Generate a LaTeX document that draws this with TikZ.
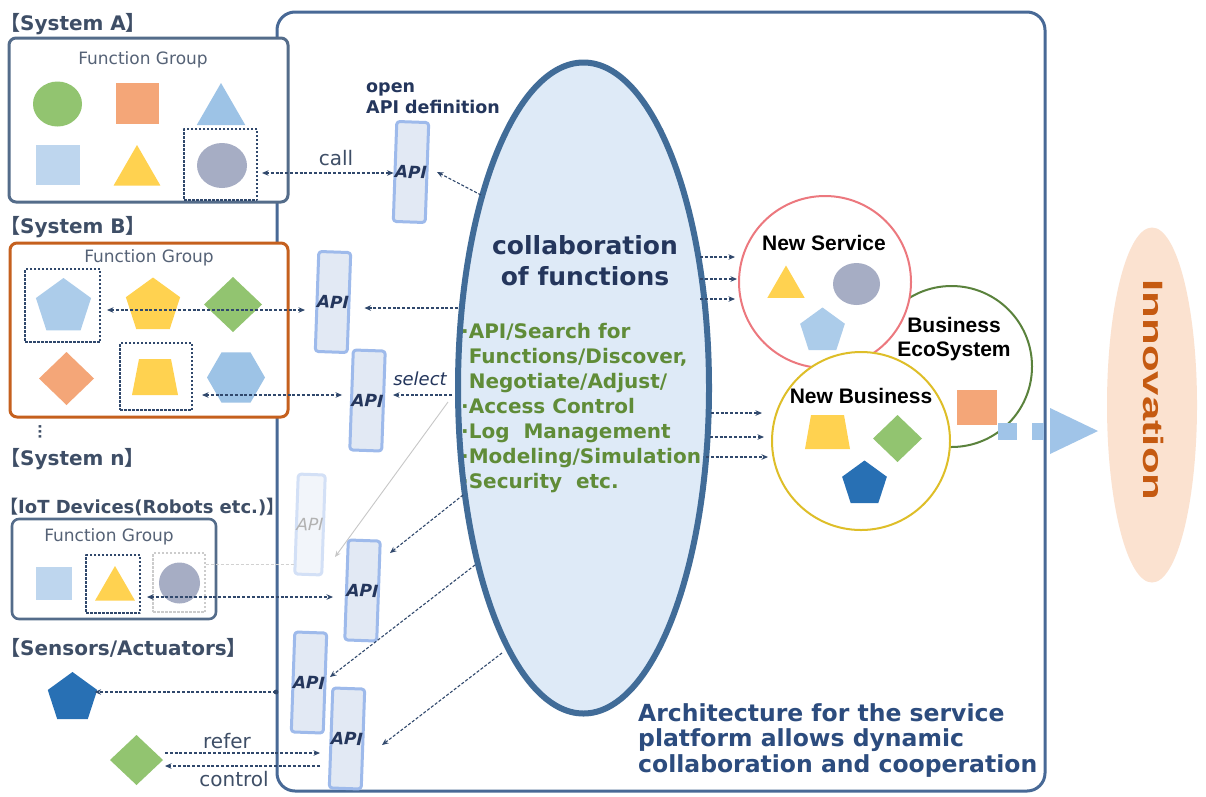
\documentclass[tikz,border=0pt]{standalone}
\usepackage{fontspec}
\setmainfont{DejaVu Sans}
\newfontfamily\cjk{Noto Sans CJK JP}
\newfontfamily\arialf{Liberation Sans}
\usetikzlibrary{arrows.meta,shapes.geometric}
\definecolor{platc}{RGB}{72,105,150}
\definecolor{boxc}{RGB}{84,108,138}
\definecolor{orgb}{RGB}{197,96,30}
\definecolor{sysc}{RGB}{62,78,102}
\definecolor{fgc}{RGB}{85,98,118}
\definecolor{arrc}{RGB}{48,72,108}
\definecolor{navyc}{RGB}{36,54,92}
\definecolor{apib}{RGB}{158,186,235}
\definecolor{apif}{RGB}{226,233,244}
\definecolor{ellb}{RGB}{65,108,152}
\definecolor{ellf}{RGB}{222,234,247}
\definecolor{listc}{RGB}{96,140,56}
\definecolor{botc}{RGB}{44,76,126}
\definecolor{cgreen}{RGB}{146,196,112}
\definecolor{corange}{RGB}{244,166,120}
\definecolor{cblue}{RGB}{157,195,230}
\definecolor{cpale}{RGB}{190,214,238}
\definecolor{cyellow}{RGB}{255,210,80}
\definecolor{cgray}{RGB}{166,173,196}
\definecolor{cdark}{RGB}{40,112,180}
\definecolor{pinkc}{RGB}{236,120,126}
\definecolor{ecoc}{RGB}{90,130,60}
\definecolor{ylwc}{RGB}{222,190,40}
\definecolor{peach}{RGB}{251,226,208}
\definecolor{innoc}{RGB}{197,90,17}
\definecolor{bigarr}{RGB}{160,196,232}
\newcommand\mylb{{\cjk 【}}
\newcommand\myrb{{\cjk 】}}
\begin{document}
\begin{tikzpicture}[x=1pt,y=-1pt,line join=round,
  conn/.style={draw=arrc,line width=1.1pt,dash pattern=on 3pt off 1.8pt,-{Stealth[length=6.5pt,width=5.5pt]}},
  connb/.style={conn,{Stealth[length=6.5pt,width=5.5pt]}-{Stealth[length=6.5pt,width=5.5pt]}},
  faint/.style={draw=black!22,line width=0.9pt,-{Stealth[length=6pt,width=5pt]}},
  apibox/.style={draw=apib,line width=3pt,fill=apif,rounded corners=3pt,minimum width=27pt,minimum height=100pt,inner sep=0pt,rotate=-2,font=\bfseries\itshape\fontsize{17}{17}\selectfont,text=navyc},
  shp/.style={inner sep=0pt,outer sep=0pt},
  dbox/.style={draw=arrc,line width=1.1pt,dash pattern=on 2.5pt off 1.5pt,inner sep=0pt},
  fbox/.style={draw=boxc,line width=3pt,fill=white,rounded corners=7pt},
  fg/.style={font=\fontsize{17}{17}\selectfont,text=fgc},
  sysl/.style={font=\bfseries\fontsize{20}{20}\selectfont,text=sysc,anchor=west,inner sep=0pt},
  lbl/.style={font=\fontsize{20}{20}\selectfont,text=sysc},
  cname/.style={font=\arialf\bfseries\fontsize{21}{24}\selectfont,text=black,align=center},
  ring/.style={circle,fill=white,line width=2pt,inner sep=0pt}]
\useasboundingbox[fill=white] (0,0) rectangle (1206,796);

% platform frame
\draw[platc,line width=3pt,rounded corners=18pt] (277,12) rectangle (1045,791);

% ---------- System A ----------
\node[sysl] (lA) at (0,24) {\mylb System A\myrb};
\draw[fbox] (9,38) rectangle (288,202);
\node[fg] (fgA) at (143,60) {Function Group};
\node[shp,ellipse,fill=cgreen,minimum width=49pt,minimum height=45pt] (a1) at (57.5,104) {};
\node[shp,rectangle,fill=corange,minimum width=43pt,minimum height=41pt] (a2) at (137.5,103.5) {};
\node[shp,regular polygon,regular polygon sides=3,fill=cblue,minimum size=56pt] (a3) at (221,111) {};
\node[shp,rectangle,fill=cpale,minimum width=44pt,minimum height=40pt] (a4) at (58,165) {};
\node[shp,regular polygon,regular polygon sides=3,fill=cyellow,minimum size=54pt] (a5) at (137,172) {};
\node[dbox,minimum width=73pt,minimum height=71pt] (dA) at (220.5,164.5) {};
\node[shp,ellipse,fill=cgray,minimum width=50pt,minimum height=45pt] (a6) at (222,165.5) {};

% ---------- System B ----------
\node[sysl] (lB) at (0,227) {\mylb System B\myrb};
\draw[fbox,draw=orgb] (10,243) rectangle (288,417);
\node[fg] (fgB) at (149,258) {Function Group};
\node[dbox,minimum width=75pt,minimum height=73pt] (dB1) at (62.5,305.5) {};
\node[shp,regular polygon,regular polygon sides=5,fill=cblue!85!white,minimum size=58pt] (b1) at (63.5,307) {};
\node[shp,regular polygon,regular polygon sides=5,fill=cyellow,minimum size=57pt] (b2) at (153,306) {};
\node[shp,diamond,fill=cgreen,minimum width=58pt,minimum height=55pt] (b3) at (233,304.5) {};
\node[shp,diamond,fill=corange,minimum width=55pt,minimum height=53pt] (b4) at (66.5,378.5) {};
\node[dbox,minimum width=72pt,minimum height=67pt] (dB2) at (156,376.5) {};
\fill[cyellow] (132,395) -- (178,395) -- (171,359) -- (139,359) -- cycle;
\coordinate (b5) at (155,377);
\node[shp,regular polygon,regular polygon sides=6,fill=cblue,minimum size=58pt] (b6) at (236,377.5) {};

% ---------- System n / IoT ----------
\node[font=\bfseries\fontsize{14}{14}\selectfont,text=sysc,inner sep=0pt] (dots) at (40,432) {\rotatebox{90}{...}};
\node[sysl] (lN) at (0,459) {\mylb System n\myrb};
\node[sysl,font=\bfseries\fontsize{18}{18}\selectfont] (lI) at (0,507) {\mylb IoT Devices(Robots etc.)\myrb};
\draw[fbox,line width=2.6pt] (12,519) rectangle (216,619);
\node[fg] (fgI) at (109,537) {Function Group};
\node[shp,rectangle,fill=cpale,minimum width=36pt,minimum height=33pt] (i1) at (54,583.5) {};
\node[dbox,minimum width=54pt,minimum height=58pt] (dI) at (113,584) {};
\node[shp,regular polygon,regular polygon sides=3,fill=cyellow,minimum size=46pt] (i2) at (115,589) {};
\node[dbox,draw=black!20,minimum width=52pt,minimum height=59pt] (dI2) at (179,582.5) {};
\node[shp,circle,fill=cgray,minimum size=41pt] (i3) at (179.5,583) {};

% ---------- Sensors ----------
\node[sysl] (lS) at (0,648) {\mylb Sensors/Actuators\myrb};
\node[shp,regular polygon,regular polygon sides=5,fill=cdark,minimum size=52pt] (s1) at (72.5,698) {};
\node[shp,diamond,fill=cgreen,minimum width=53pt,minimum height=50pt] (s2) at (136.5,760) {};

% ---------- central ellipse ----------
\node[shp,ellipse,fill=ellf,minimum width=251pt,minimum height=651pt] (coll) at (583.5,388) {};
\node[font=\bfseries\fontsize{25}{31}\selectfont,text=navyc,align=center,anchor=base] (ctitle) at (585,285) {collaboration\\of functions};
\node[font=\bfseries\fontsize{20}{25}\selectfont,text=listc,align=left,anchor=base west,inner sep=0pt] (list) at (461,488)
 {·API/Search for\\\hphantom{·}Functions/Discover,\\\hphantom{·}Negotiate/Adjust/\\·Access Control\\·Log\ \ Management\\·Modeling/Simulation\\·Security\ \ etc.};
\node[shp,ellipse,draw=ellb,line width=6pt,minimum width=251pt,minimum height=651pt] (collb) at (583.5,388) {};

% ---------- API boxes ----------
\node[apibox] (apiA) at (411,172) {API};
\node[apibox] (apiB1) at (333,302) {API};
\node[apibox] (apiB2) at (367.5,400.5) {API};
\node[apibox,draw=apib!45,fill=apif!45,text=black!30,font=\itshape\fontsize{17}{17}\selectfont] (apiF) at (310,524.5) {API};
\node[apibox] (apiC) at (362.5,590.5) {API};
\node[apibox] (apiD) at (309,682.5) {API};
\node[apibox] (apiE) at (347,738.5) {API};

\node[font=\bfseries\fontsize{17.5}{21}\selectfont,text=navyc,align=left,anchor=base west,inner sep=0pt] (openl) at (366,113) {open\\API definition};

% ---------- connectors left side ----------
\coordinate (cA) at (262,173);
\draw[connb] (cA) -- (apiA.west |- cA);
\node[lbl] (callt) at (336,158) {call};
\coordinate (eA) at (481,195);
\coordinate (tA) at (437,172);
\draw[conn] (eA) -- (tA);

\coordinate (cB1) at (107,310);
\coordinate (tB1) at (305,310);
\draw[connb] (cB1) -- (tB1);
\coordinate (eB1) at (458,308);
\draw[conn] (eB1) -- ([xshift=14pt]apiB1.east |- eB1);

\coordinate (cB2) at (202,395);
\draw[connb] (cB2) -- ([xshift=-8pt]apiB2.west |- cB2);
\coordinate (eB2) at (452,395);
\draw[conn] (eB2) -- ([xshift=8pt]apiB2.east |- eB2);
\node[font=\itshape\fontsize{18}{18}\selectfont,text=navyc] (selt) at (420,379) {select};

\coordinate (eF) at (448,402);
\draw[faint] (eF) -- ([xshift=10pt,yshift=-32pt]apiF.east);
\draw[draw=black!18,line width=1pt,dash pattern=on 3pt off 2pt] (dI2.east |- 0,564) -- (apiF.west |- 0,564);

\coordinate (cC) at (147,597);
\draw[connb] (cC) -- ([xshift=-12pt]apiC.west |- cC);
\coordinate (eC) at (463,495);
\draw[conn] (eC) -- (390,553) coordinate (tC);

\coordinate (cD) at (276,692);
\fill[arrc] (cD) circle (2.4pt);
\draw[conn] (cD) -- (s1.east |- cD);
\coordinate (eD) at (475,565);
\draw[conn] (eD) -- (330,677) coordinate (tD);

\coordinate (cE1) at (165,753);
\coordinate (cE2) at (320,766);
\draw[conn] (cE1) -- (cE2 |- cE1);
\draw[conn] (cE2) -- (cE1 |- cE2);
\node[lbl] (refert) at (227,741) {refer};
\node[lbl] (contt) at (234,779) {control};
\coordinate (eE) at (502,653);
\draw[conn] (eE) -- (382,745) coordinate (tE);

% ---------- right side ----------
\node[ring,draw=ecoc,minimum size=161pt] (eco) at (951.5,366.5) {};
\node[ring,draw=pinkc,minimum size=172pt] (nsv) at (825,282) {};
\node[ring,draw=ylwc,minimum size=178pt] (nbz) at (861,441) {};

\node[cname] (nsvt) at (824,243) {New Service};
\node[shp,regular polygon,regular polygon sides=3,fill=cyellow,minimum size=43pt] (n1) at (786,287) {};
\node[shp,ellipse,fill=cgray,minimum width=47pt,minimum height=42pt] (n2) at (856.5,284) {};
\node[shp,regular polygon,regular polygon sides=5,fill=cblue!85!white,minimum size=47pt] (n3) at (822.5,331) {};

\node[cname] (ecot) at (954,339) {Business\\EcoSystem};
\node[shp,rectangle,fill=corange,minimum width=40pt,minimum height=35pt] (e1) at (977,407.5) {};

\node[cname] (nbzt) at (861,396) {New Business};
\fill[cyellow] (805,449) -- (850,449) -- (844,415) -- (811,415) -- cycle;
\coordinate (m1) at (827.5,432);
\node[shp,diamond,fill=cgreen,minimum width=49pt,minimum height=47pt] (m2) at (897.5,438.5) {};
\node[shp,regular polygon,regular polygon sides=5,fill=cdark,minimum size=47pt] (m3) at (864.5,484) {};

% arrows from ellipse to circles
\foreach \yy/\xe [count=\k] in {257/735,279/737,299/735}{
  \coordinate (sv\k) at (700,\yy);
  \draw[conn] (sv\k) -- (\xe,\yy);
}
\foreach \yy/\xs/\xe [count=\k] in {413/711/762,437/710/764,457/706/768}{
  \coordinate (bz\k) at (\xs,\yy);
  \draw[conn] (bz\k) -- (\xe,\yy);
}

% big arrow to innovation
\node[shp,fill=peach,ellipse,minimum width=90pt,minimum height=355pt] (inno) at (1152,405) {};
\node[rotate=-90,text=innoc,inner sep=0pt] (innot) at (1153,390) {\scalebox{1.56}[1]{\arialf\bfseries\fontsize{28}{28}\selectfont Innovation}};
\fill[bigarr] (998,423) rectangle (1017,440);
\fill[bigarr] (1032,423) rectangle (1044,440);
\fill[bigarr] (1050,408) -- (1098,431) -- (1050,454) -- cycle;
\coordinate (arrtip) at (1098,431);

% bottom text
\node[font=\bfseries\fontsize{23.5}{25.5}\selectfont,text=botc,align=left,anchor=base west,inner sep=0pt] (bott) at (638,772)
 {Architecture for the service\\platform allows dynamic\\collaboration and cooperation};
\end{tikzpicture}
\end{document}
